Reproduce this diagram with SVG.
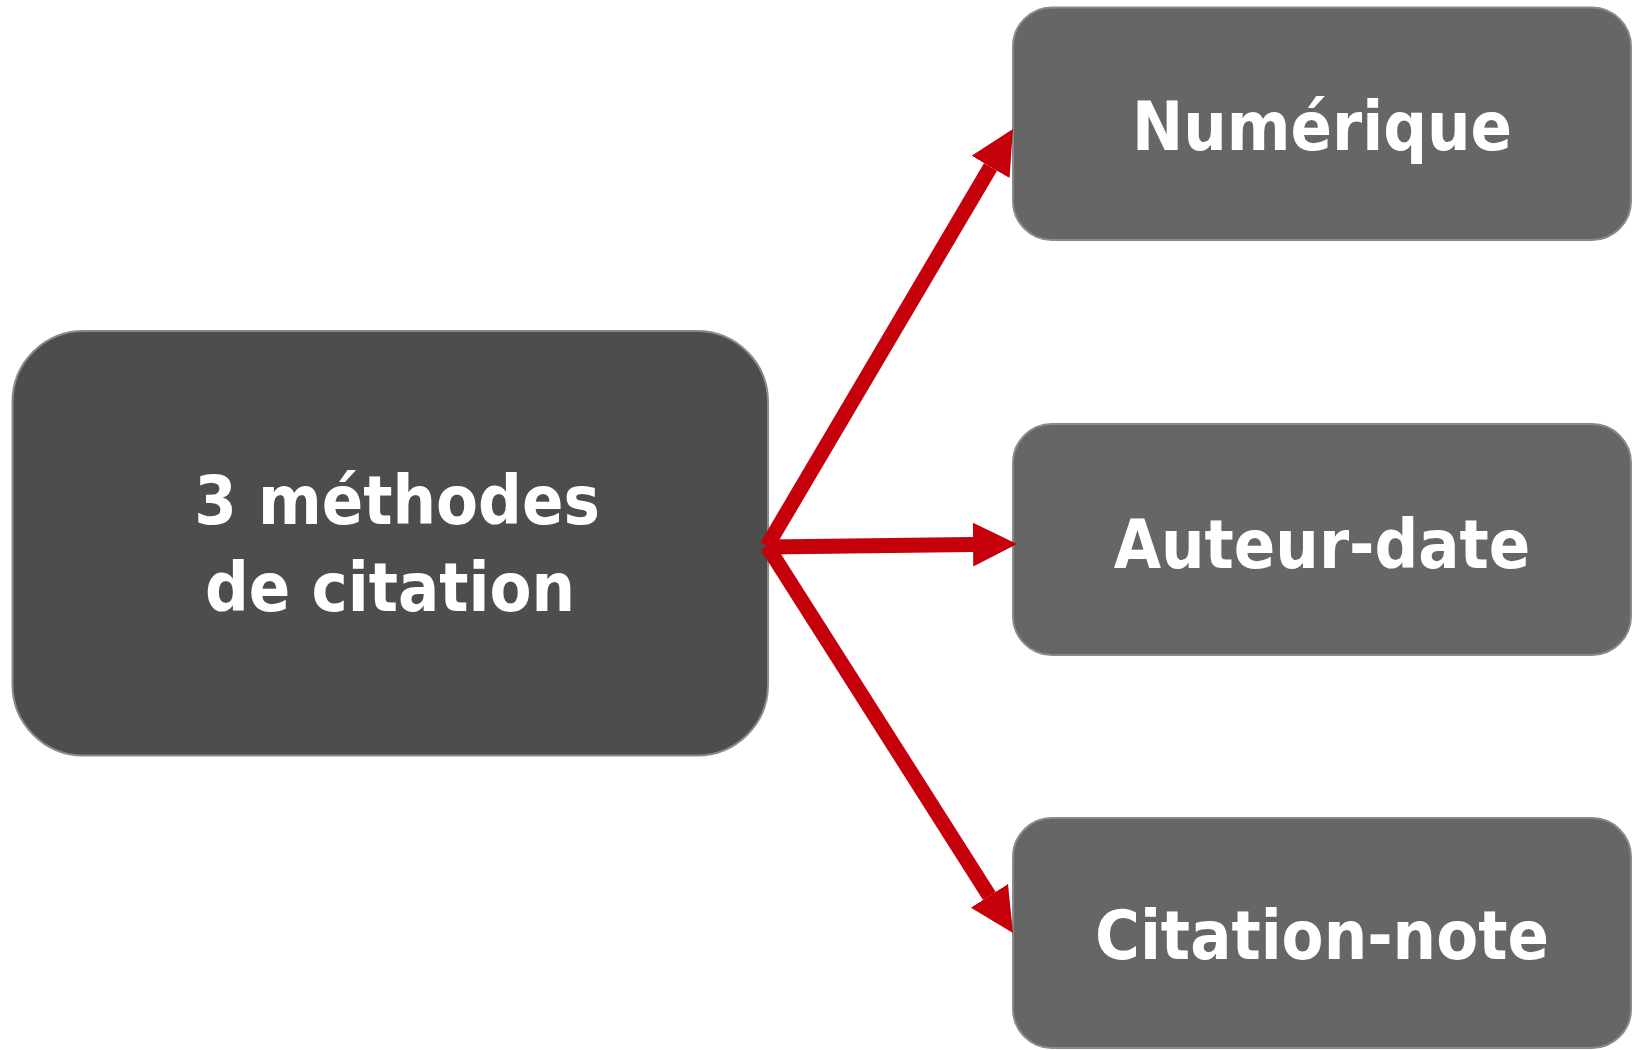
<svg xmlns="http://www.w3.org/2000/svg" width="1634" height="1050" viewBox="0 0 1634 1050">
<style>
.box{stroke:#8a8a8a;stroke-width:2}
.main{fill:#4d4d4d}
.sub{fill:#666666}
.lbl{font-family:"DejaVu Sans Condensed","DejaVu Sans",sans-serif;font-stretch:condensed;font-weight:bold;font-size:68px;fill:#ffffff;text-anchor:middle}
.conn{stroke:#c5000b;stroke-width:15;fill:none;stroke-linecap:butt}
</style>
<defs>
<marker id="ah" markerUnits="userSpaceOnUse" markerWidth="44" markerHeight="44" refX="0" refY="22" orient="auto" viewBox="0 0 44 44">
<path d="M0,0 L44,22 L0,44 Z" fill="#c5000b"/>
</marker>
</defs>
<rect width="1634" height="1050" fill="#ffffff"/>
<g id="node-main">
<rect class="box main" x="12.5" y="331" width="755.5" height="424.5" rx="71" ry="71"/>
<text class="lbl" x="397" y="524">3 méthodes</text>
<text class="lbl" x="390" y="611">de citation</text>
</g>
<g id="node-numerique">
<rect class="box sub" x="1013" y="7.5" width="618" height="232.5" rx="39" ry="39"/>
<text class="lbl" x="1322" y="150">Numérique</text>
</g>
<g id="node-auteur-date">
<rect class="box sub" x="1013" y="424" width="618" height="231" rx="39" ry="39"/>
<text class="lbl" x="1322" y="568">Auteur-date</text>
</g>
<g id="node-citation-note">
<rect class="box sub" x="1013" y="818" width="618" height="230" rx="39" ry="39"/>
<text class="lbl" x="1322" y="959">Citation-note</text>
</g>
<g id="connectors">
<line class="conn" x1="767" y1="546" x2="990.6" y2="166.9" marker-end="url(#ah)"/>
<line class="conn" x1="767" y1="547" x2="973" y2="544.5" marker-end="url(#ah)"/>
<line class="conn" x1="767" y1="546" x2="989.4" y2="895.9" marker-end="url(#ah)"/>
</g>
</svg>
